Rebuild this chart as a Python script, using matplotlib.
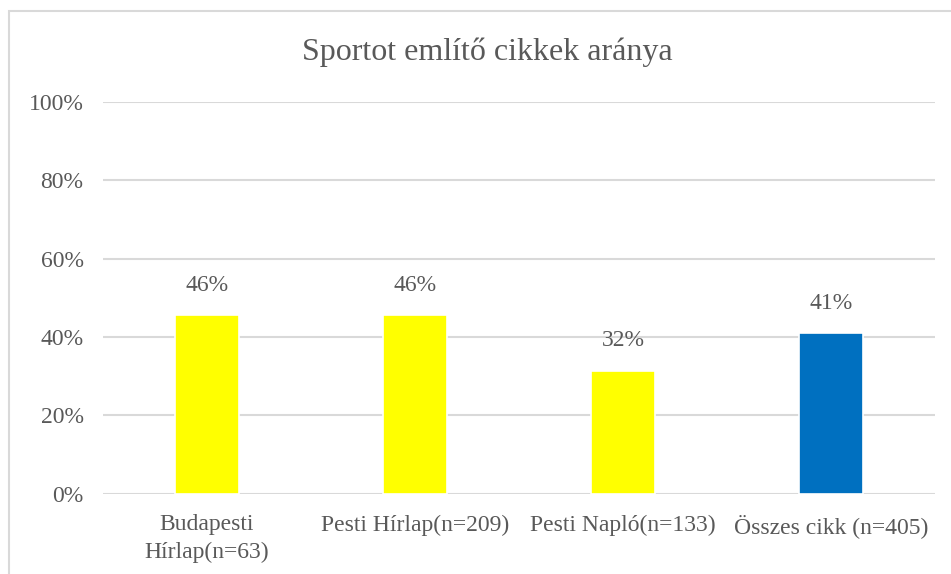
import matplotlib
matplotlib.use("Agg")
import matplotlib.pyplot as plt
from matplotlib.patches import Rectangle

categories = ["Budapesti\nHírlap(n=63)", "Pesti Hírlap(n=209)", "Pesti Napló(n=133)", "Összes cikk (n=405)"]
values = [45.5, 45.5, 31.4, 41.0]
value_labels = ["46%", "46%", "32%", "41%"]
colors = ["#FFFF00", "#FFFF00", "#FFFF00", "#0070C0"]
yticks = [0, 20, 40, 60, 80, 100]
ytick_labels = ["0%", "20%", "40%", "60%", "80%", "100%"]
title = "Sportot említő cikkek aránya"

plt.rcParams['font.family'] = ['Liberation Serif', 'DejaVu Serif']
txt = "#595959"
grid = "#D9D9D9"

fig = plt.figure(figsize=(9.51, 5.74), dpi=100)
fig.patch.set_facecolor("white")

# chart border
fig.patches.append(Rectangle((9/951, -0.1), 1.2, (574-11)/574 + 0.1, transform=fig.transFigure,
                             fill=False, edgecolor=grid, linewidth=1.5))

ax = fig.add_axes([103/951, (574-493.5)/574, (935-103)/951, (493.5-102)/574])
x = list(range(len(categories)))
ax.bar(x, values, width=0.31, color=colors, edgecolor="white", linewidth=1.2, zorder=3)
ax.set_xlim(-0.5, len(categories) - 0.5)
ax.set_ylim(0, 100)
ax.set_yticks(yticks)
ax.set_yticklabels(ytick_labels)
ax.set_xticks(x)
ax.set_xticklabels(categories, linespacing=1.4)
ax.yaxis.grid(True, color=grid, linewidth=1.5, zorder=0)
for s in ax.spines.values():
    s.set_visible(False)
ax.tick_params(axis='both', length=0, colors=txt, labelsize=17)
ax.tick_params(axis='y', pad=14)
ax.tick_params(axis='x', pad=15)

for xi, v, lab in zip(x, values, value_labels):
    ax.annotate(lab, (xi, v), xytext=(0, 14), textcoords="offset points",
                ha="center", va="bottom", fontsize=17, color=txt)

fig.text(487/951, 1 - 52/574, title, ha="center", va="center", fontsize=23, color=txt)

fig.savefig("out.png", dpi=100)
